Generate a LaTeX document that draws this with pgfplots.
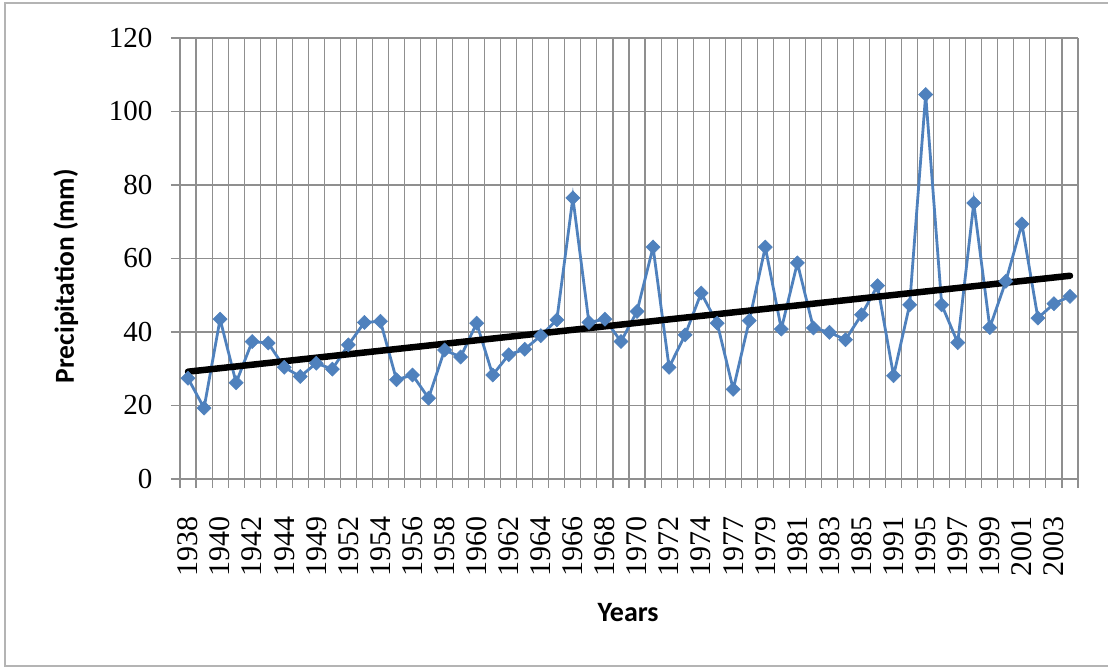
\documentclass[border=0pt]{standalone}
\usepackage{fontspec}
\setmainfont{Liberation Serif}
\newfontfamily\calibri{Carlito}
\usepackage{pgfplots}
\pgfplotsset{compat=1.18}
\definecolor{serblue}{HTML}{4F81BD}
\definecolor{gridgray}{HTML}{8F8F8F}
\definecolor{framegray}{HTML}{B4B4B4}

\pgfplotstableread{
x y
1 27.4
2 19.3
3 43.5
4 26.2
5 37.4
6 37.0
7 30.4
8 27.9
9 31.5
10 29.9
11 36.5
12 42.6
13 42.9
14 27.0
15 28.3
16 22.0
17 35.1
18 33.2
19 42.4
20 28.3
21 33.8
22 35.3
23 39.0
24 43.3
25 76.5
26 42.6
27 43.5
28 37.4
29 45.6
30 63.1
31 30.4
32 39.2
33 50.6
34 42.4
35 24.4
36 43.1
37 63.1
38 40.8
39 58.8
40 41.1
41 39.9
42 37.9
43 44.7
44 52.6
45 28.1
46 47.4
47 104.6
48 47.4
49 37.1
50 75.1
51 41.2
52 53.8
53 69.4
54 43.8
55 47.7
56 49.7
}\precip

\pgfplotstableread{
x y
1 29.2
56 55.3
}\trend

\begin{document}
\begin{tikzpicture}
\useasboundingbox (0pt,0pt) rectangle (1108pt,668pt);
\fill[white] (0pt,0pt) rectangle (1108pt,668pt);
\draw[line width=1.5pt, framegray] (1108pt,2pt) -- (5pt,2pt) -- (5pt,665pt) -- (1108pt,665pt);
\begin{axis}[
  at={(180pt,189pt)}, anchor=south west,
  scale only axis, width=898pt, height=441pt,
  xmin=0.5, xmax=56.5, ymin=0, ymax=120,
  axis x line*=bottom, axis y line*=left,
  axis line style={gridgray, line width=1.1pt, -},
  ytick={0,20,...,120},
  xtick={0.5,1.5,2.5,3.5,4.5,5.5,6.5,7.5,8.5,9.5,10.5,11.5,12.5,13.5,14.5,15.5,16.5,17.5,18.5,19.5,20.5,21.5,22.5,23.5,24.5,25.5,26.5,27.5,28.5,29.5,30.5,31.5,32.5,33.5,34.5,35.5,36.5,37.5,38.5,39.5,40.5,41.5,42.5,43.5,44.5,45.5,46.5,47.5,48.5,49.5,50.5,51.5,52.5,53.5,54.5,55.5,56.5},
  xticklabels={},
  extra x ticks={1,3,...,55},
  extra x tick labels={1938,1940,1942,1944,1949,1952,1954,1956,1958,1960,1962,1964,1966,1968,1970,1972,1974,1977,1979,1981,1983,1985,1991,1995,1997,1999,2001,2003},
  extra x tick style={grid=none, major tick length=0pt,
    xticklabel style={font=\fontsize{30}{30}\selectfont, yshift=-17pt, rotate=90, anchor=east, black}},
  xticklabel shift=17pt,
  xmajorgrids=true, ymajorgrids=true,
  grid style={gridgray, line width=1.1pt},
  tick align=outside,
  major tick length=9pt,
  tick style={gridgray, line width=1.1pt},
  /pgf/number format/assume math mode=true,
  yticklabel style={font=\fontsize{29}{29}\selectfont, black},
  yticklabel shift=15pt,
  ylabel={Precipitation (mm)},
  xlabel={Years},
  ylabel style={font=\calibri\bfseries\fontsize{27.5}{28}\selectfont, at={(axis description cs:-0.127,0.46)}, anchor=center},
  xlabel style={font=\calibri\bfseries\fontsize{28}{28}\selectfont, at={(axis description cs:0.499,-0.302)}, anchor=center},
  clip=false,
]
\addplot[serblue, line width=2.8pt, mark=square*, mark size=5pt,
  mark options={rotate=45, fill=serblue, draw=serblue, line width=0.5pt}]
  table[x=x, y=y] {\precip};
\addplot[black, line width=6.5pt, line cap=round] table[x=x, y=y] {\trend};
\end{axis}
\end{tikzpicture}
\end{document}
